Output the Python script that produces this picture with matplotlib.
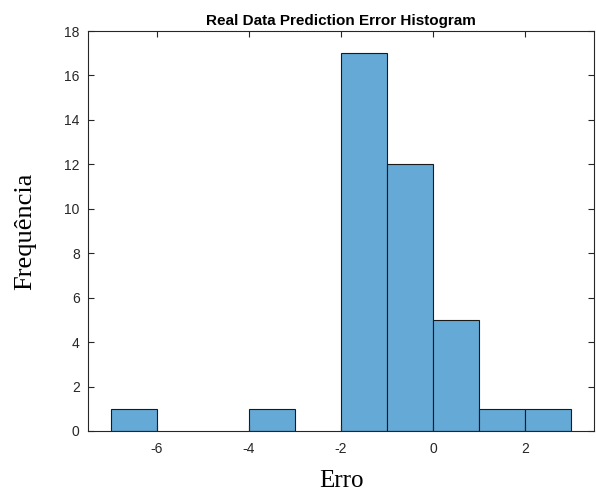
import matplotlib
matplotlib.use('Agg')
import matplotlib.pyplot as plt

# Histogram bin edges and counts
bin_edges = [-7, -6, -5, -4, -3, -2, -1, 0, 1, 2, 3]
counts = [1, 0, 0, 1, 0, 17, 12, 5, 1, 1]

plt.rcParams['font.family'] = ['Liberation Sans', 'DejaVu Sans']
plt.rcParams['axes.unicode_minus'] = False

fig = plt.figure(figsize=(5.96, 4.93), dpi=100)
ax = fig.add_axes([0.1477, 0.1258, 0.8489, 0.8113])

for i, c in enumerate(counts):
    if c > 0:
        ax.bar(bin_edges[i], c, width=bin_edges[i + 1] - bin_edges[i], align='edge',
               color='#65a9d7', edgecolor='#1a1a1a', linewidth=0.8)

ax.set_xlim(-7.5, 3.5)
ax.set_ylim(0, 18)
ax.set_xticks([-6, -4, -2, 0, 2])
ax.set_yticks(range(0, 19, 2))
ax.tick_params(direction='in', top=True, right=True, labelsize=10, colors='#262626', length=4)
ax.tick_params(axis='x', pad=8)
ax.tick_params(axis='y', pad=6)
for s in ax.spines.values():
    s.set_color('#262626')
    s.set_linewidth(0.8)

ax.set_title('Real Data Prediction Error Histogram', fontsize=11, fontweight='bold', pad=4)
ax.set_xlabel('Erro', fontsize=18, family='Liberation Serif', labelpad=10)
ax.set_ylabel('Frequência', fontsize=19, family='Liberation Serif', labelpad=20)

fig.savefig('out.png', dpi=100)
